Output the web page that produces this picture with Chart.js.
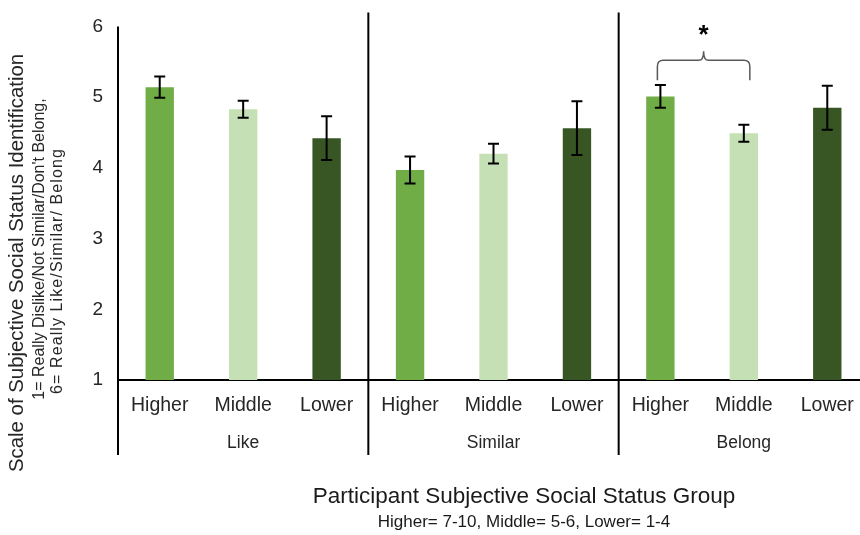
<!DOCTYPE html>
<html>
<head>
<meta charset="utf-8">
<script src="https://cdn.jsdelivr.net/npm/chart.js@4.4.1/dist/chart.umd.min.js"></script>
<style>
  html, body { margin: 0; padding: 0; background: #fff; overflow: hidden; width: 860px; height: 535px; }
  canvas { display: block; }
</style>
</head>
<body>
<canvas id="chart" width="872" height="535"></canvas>
<script>
// Status groups shown within each measure
const statusGroups = ['Higher', 'Middle', 'Lower'];
const measures = ['Like', 'Similar', 'Belong'];

// Mean ratings and standard errors per measure (Higher, Middle, Lower)
const likeMeans = [5.14, 4.83, 4.42];
const likeErrors = [0.15, 0.12, 0.31];
const similarMeans = [3.97, 4.20, 4.56];
const similarErrors = [0.19, 0.14, 0.38];
const belongMeans = [5.01, 4.49, 4.85];
const belongErrors = [0.16, 0.12, 0.31];

const yTicks = [1, 2, 3, 4, 5, 6];
const groupColors = ['#70AD47', '#C5E0B4', '#375623'];

// Significant comparison: Belong Higher vs Belong Middle
const significantPair = { measure: 'Belong', from: 'Higher', to: 'Middle', mark: '*' };

const yTitleLines = [
  'Scale of Subjective Social Status Identification',
  '1= Really Dislike/Not Similar/Don\'t Belong,',
  '6= Really Like/Similar/ Belong'
];
const xTitle = 'Participant Subjective Social Status Group';
const xSubtitle = 'Higher= 7-10, Middle= 5-6, Lower= 1-4';

// Flattened series built from the named arrays
const labels = [];
const means = [];
const errors = [];
const colors = [];
[[likeMeans, likeErrors], [similarMeans, similarErrors], [belongMeans, belongErrors]].forEach(([m, e]) => {
  statusGroups.forEach((g, i) => {
    labels.push(g);
    means.push(m[i]);
    errors.push(e[i]);
    colors.push(groupColors[i]);
  });
});

const FONT = '"Liberation Sans", Arial, sans-serif';
const TEXT = '#262626';

const errorBars = {
  id: 'errorBars',
  afterDatasetsDraw(chart) {
    const { ctx, scales: { y } } = chart;
    const meta = chart.getDatasetMeta(0);
    ctx.save();
    ctx.strokeStyle = '#000';
    ctx.lineWidth = 2;
    meta.data.forEach((bar, i) => {
      const top = y.getPixelForValue(means[i] + errors[i]);
      const bot = y.getPixelForValue(means[i] - errors[i]);
      const cap = 5.5;
      ctx.beginPath();
      ctx.moveTo(bar.x, top); ctx.lineTo(bar.x, bot);
      ctx.moveTo(bar.x - cap, top); ctx.lineTo(bar.x + cap, top);
      ctx.moveTo(bar.x - cap, bot); ctx.lineTo(bar.x + cap, bot);
      ctx.stroke();
    });
    ctx.restore();
  }
};

const decorations = {
  id: 'decorations',
  afterDraw(chart) {
    const { ctx, chartArea: a, scales: { x, y } } = chart;
    const n = statusGroups.length;
    const lowEnd = a.bottom + 75;
    ctx.save();
    ctx.strokeStyle = '#000';
    ctx.lineWidth = 2;
    // value axis line, running down through the group label rows
    ctx.beginPath();
    ctx.moveTo(a.left, a.top); ctx.lineTo(a.left, lowEnd);
    // separators between measures
    for (let k = 1; k < measures.length; k++) {
      const bx = (x.getPixelForValue(k * n - 1) + x.getPixelForValue(k * n)) / 2;
      ctx.moveTo(bx, a.top - 14); ctx.lineTo(bx, lowEnd);
    }
    ctx.stroke();

    // measure labels under each group
    ctx.fillStyle = TEXT;
    ctx.font = '17.5px ' + FONT;
    ctx.textAlign = 'center';
    ctx.textBaseline = 'middle';
    measures.forEach((m, k) => {
      ctx.fillText(m, x.getPixelForValue(k * n + 1), a.bottom + 63);
    });

    // horizontal axis title and subtitle
    const cx = a.left + 406;
    ctx.fillStyle = '#1a1a1a';
    ctx.font = '22.5px ' + FONT;
    ctx.fillText(xTitle, cx, a.bottom + 117);
    ctx.font = '17px ' + FONT;
    ctx.fillText(xSubtitle, cx, a.bottom + 142);

    // vertical axis title (three rotated lines)
    const yc = [263, 249, 271];
    const xc = [17, 40, 58];
    const fs = [20.4, 16, 16];
    const sp = ['0px', '0px', '1.1px'];
    yTitleLines.forEach((t, i) => {
      ctx.save();
      ctx.translate(xc[i], yc[i]);
      ctx.rotate(-Math.PI / 2);
      ctx.font = fs[i] + 'px ' + FONT;
      if ('letterSpacing' in ctx) ctx.letterSpacing = sp[i];
      ctx.fillStyle = TEXT;
      ctx.fillText(t, 0, 0);
      ctx.restore();
    });

    // significance brace with asterisk
    const k = measures.indexOf(significantPair.measure);
    const x1 = x.getPixelForValue(k * n + statusGroups.indexOf(significantPair.from)) - 3;
    const x2 = x.getPixelForValue(k * n + statusGroups.indexOf(significantPair.to)) + 6;
    const xm = (x1 + x2) / 2;
    const yh = y.getPixelForValue(5.52);
    const ye = y.getPixelForValue(5.24);
    const yt = y.getPixelForValue(5.65);
    ctx.strokeStyle = '#595959';
    ctx.lineWidth = 1.5;
    ctx.beginPath();
    ctx.moveTo(x1, ye);
    ctx.lineTo(x1, yh + 6);
    ctx.quadraticCurveTo(x1, yh, x1 + 6, yh);
    ctx.lineTo(xm - 5, yh);
    ctx.quadraticCurveTo(xm, yh, xm, yt);
    ctx.quadraticCurveTo(xm, yh, xm + 5, yh);
    ctx.lineTo(x2 - 6, yh);
    ctx.quadraticCurveTo(x2, yh, x2, yh + 6);
    ctx.lineTo(x2, ye);
    ctx.stroke();
    ctx.fillStyle = '#000';
    ctx.font = 'bold 26px ' + FONT;
    ctx.fillText(significantPair.mark, xm, y.getPixelForValue(5.87));
    ctx.restore();
  }
};

new Chart(document.getElementById('chart'), {
  type: 'bar',
  data: {
    labels,
    datasets: [{
      data: means,
      base: 1,
      backgroundColor: colors,
      borderWidth: 0,
      barPercentage: 0.34,
      categoryPercentage: 1
    }]
  },
  options: {
    responsive: false,
    animation: false,
    layout: { padding: { left: 83, right: 3, top: 24, bottom: 115 } },
    plugins: { legend: { display: false }, tooltip: { enabled: false } },
    scales: {
      x: {
        grid: { display: false, drawTicks: false },
        border: { display: true, color: '#000', width: 2 },
        ticks: { color: TEXT, font: { family: FONT, size: 19.5 }, padding: 14 },
        afterFit(scale) { scale.height = 40; }
      },
      y: {
        min: yTicks[0],
        max: yTicks[yTicks.length - 1],
        grid: { display: false, drawTicks: false },
        border: { display: false },
        afterBuildTicks(scale) { scale.ticks = yTicks.map(v => ({ value: v })); },
        ticks: { color: TEXT, font: { family: FONT, size: 19 }, padding: 15 },
        afterFit(scale) { scale.width = 35; }
      }
    }
  },
  plugins: [errorBars, decorations]
});
</script>
</body>
</html>
